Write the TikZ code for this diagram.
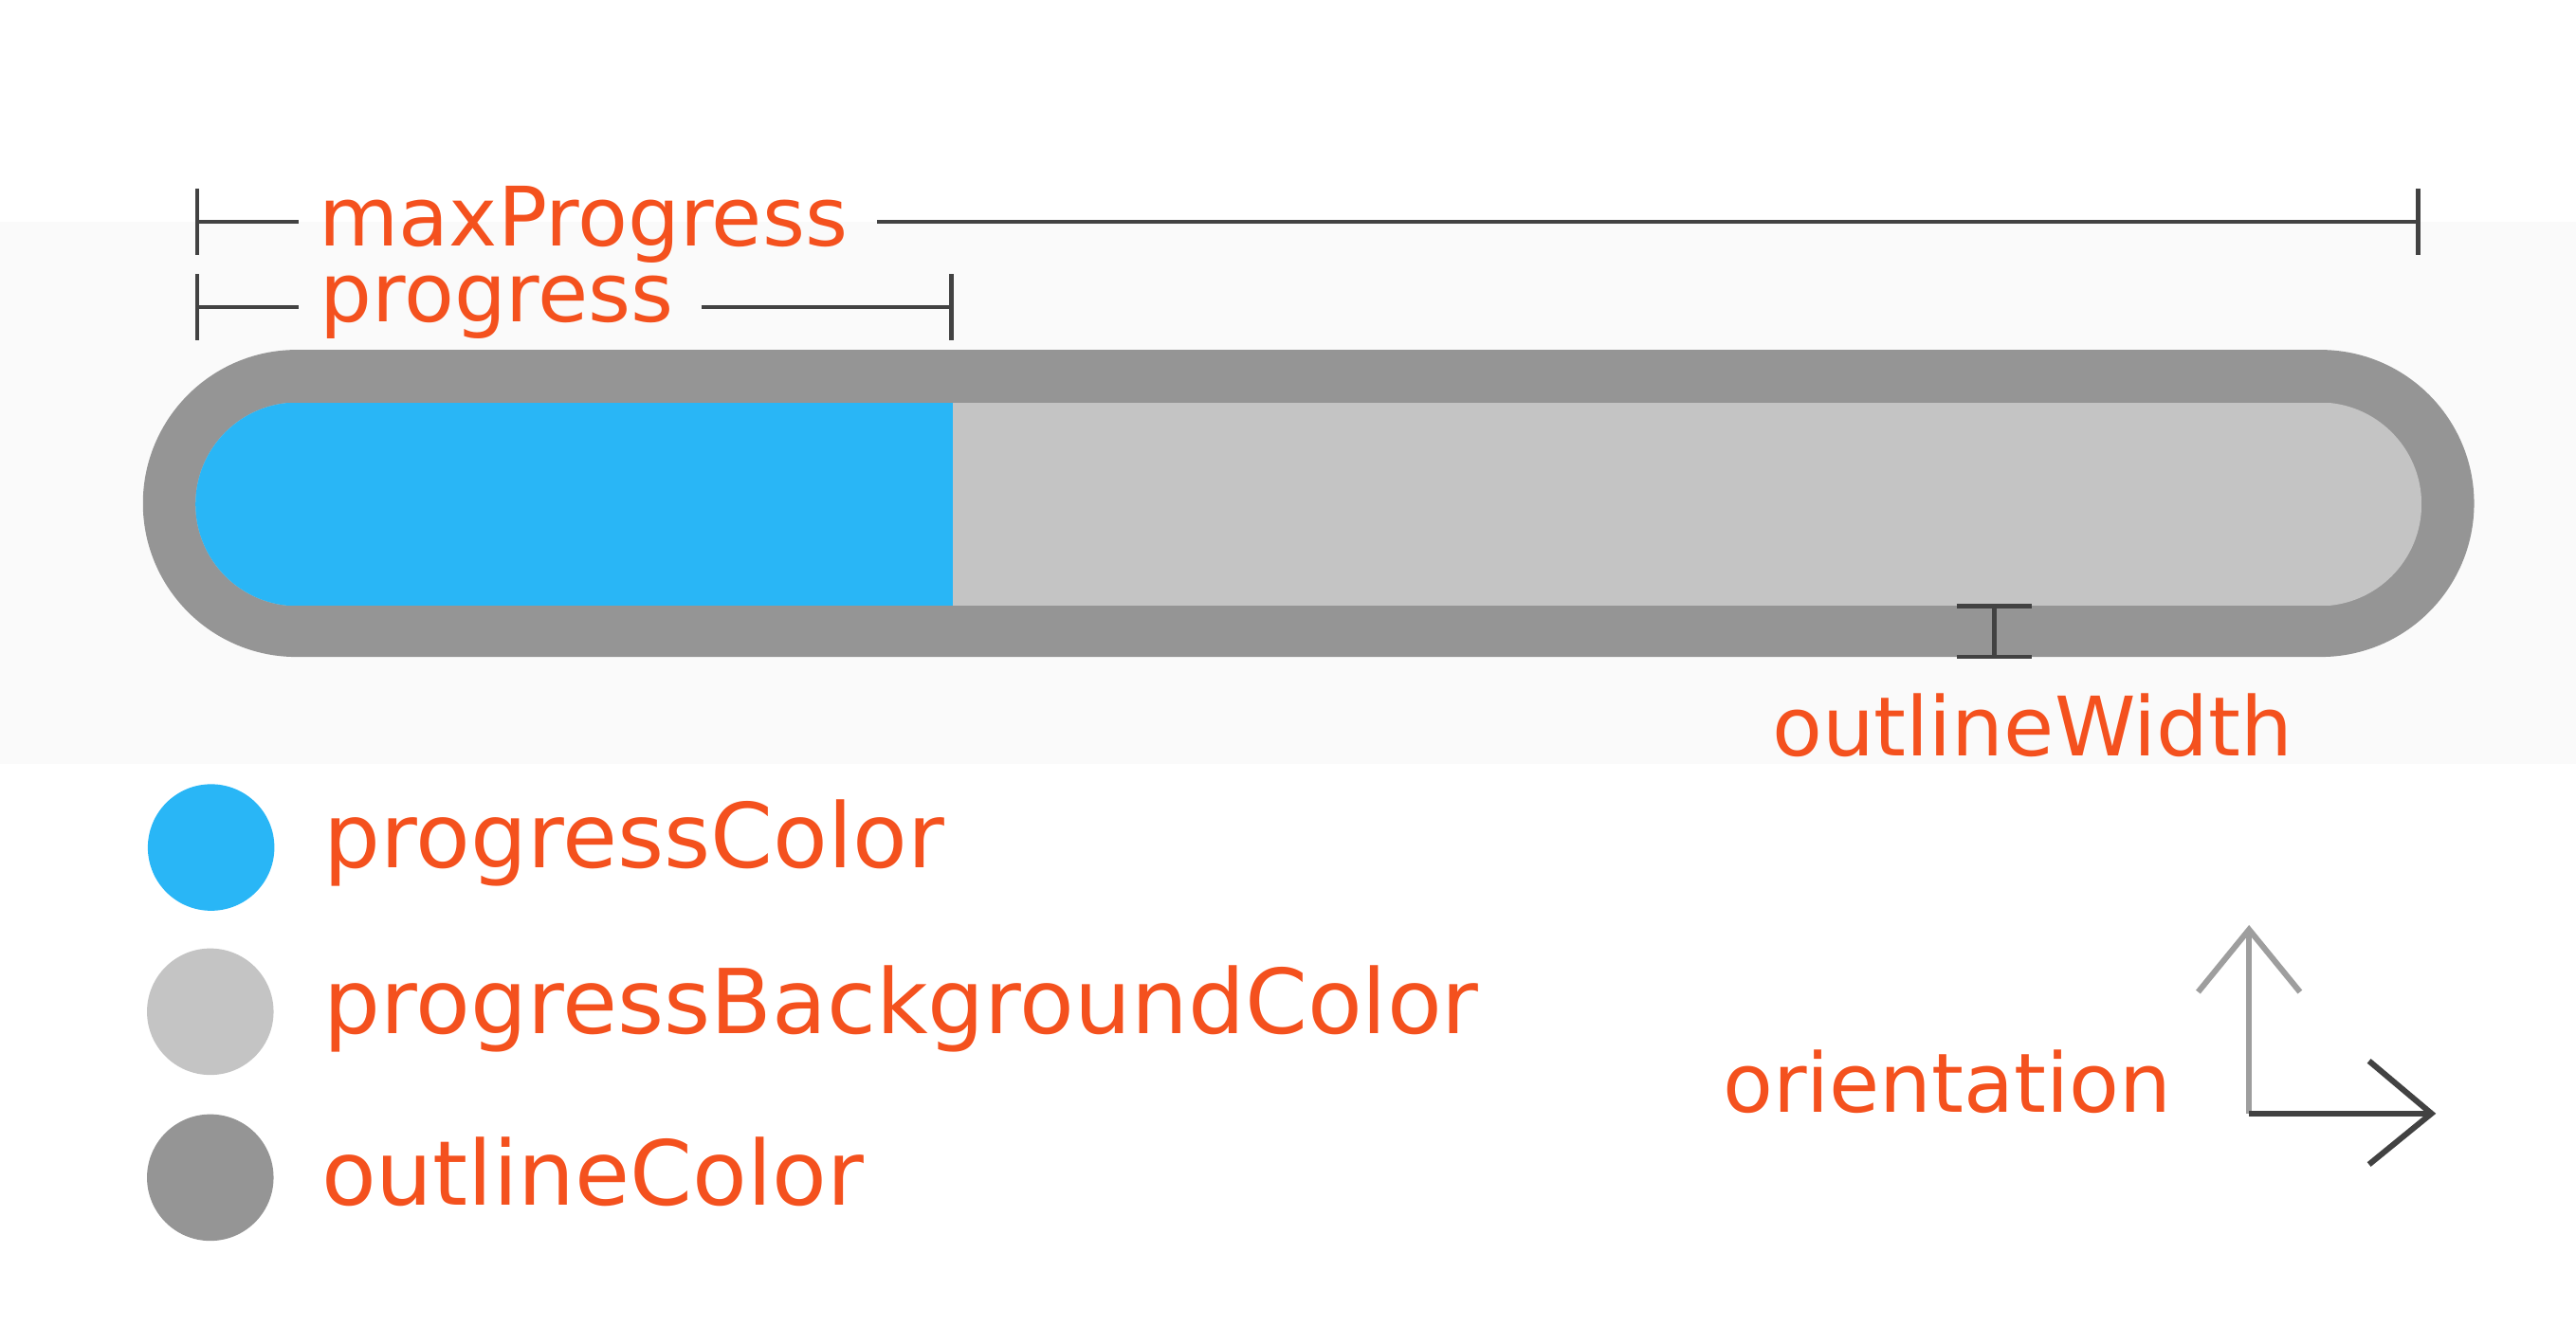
\documentclass[tikz,border=0pt]{standalone}
\usepackage{fontspec}
\setmainfont{DejaVu Sans}
\usetikzlibrary{calc}
\definecolor{bandgray}{HTML}{FAFAFA}
\definecolor{outlinegray}{HTML}{959595}
\definecolor{trackgray}{HTML}{C4C4C4}
\definecolor{progblue}{HTML}{29B6F6}
\definecolor{dimgray}{HTML}{424242}
\definecolor{axisgray}{HTML}{9E9E9E}
\definecolor{labelorange}{HTML}{F4511E}
\tikzset{
  dimline/.style={dimgray, line width=0.75pt},
  axisline/.style={line width=1pt},
  attrlabel/.style={labelorange, inner sep=0pt, anchor=base west,
    font=\fontsize{14.2}{17}\selectfont},
  legendlabel/.style={attrlabel, font=\fontsize{15.5}{19}\selectfont},
  swatch/.style={circle, minimum size=0.77cm, inner sep=0pt},
}
\begin{document}
\begin{tikzpicture}[x=0.01cm, y=-0.01cm]
        \useasboundingbox (0,0) rectangle (1568,818);
        \fill[bandgray] (0,135) rectangle (1568,465);
        % bar
        \fill[outlinegray, rounded corners=0.935cm] (87,213) rectangle (1506,400);
        \begin{scope}
          \clip[rounded corners=0.62cm] (119,245) rectangle (1474,369);
          \fill[trackgray] (119,245) rectangle (1474,369);
          \fill[progblue]  (119,245) rectangle (580,369);
        \end{scope}
        % dimensions
        \coordinate (maxL)  at ( 120,135);
        \coordinate (maxR)  at (1472,135);
        \coordinate (progL) at ( 120,187);
        \coordinate (progR) at ( 579,187);
        \node[attrlabel] (maxText)  at (193.5,150) {maxProgress};
        \node[attrlabel] (progText) at (194,196)   {progress};
        \draw[dimline] (maxL) -- ($(maxL -| maxText.west)+(-12,0)$);
        \draw[dimline] ($(maxL -| maxText.east)+(17,0)$) -- (maxR);
        \draw[dimline] (progL) -- ($(progL -| progText.west)+(-12,0)$);
        \draw[dimline] ($(progL -| progText.east)+(16,0)$) -- (progR);
        \draw[dimline] (maxL) ++(0,-20) -- ++(0,40);
        \draw[dimline] (maxR) ++(0,-20) -- ++(0,40);
        \draw[dimline] (progL) ++(0,-20) -- ++(0,40);
        \draw[dimline] (progR) ++(0,-20) -- ++(0,40);
        % outline width
        \coordinate (owTop) at (1214,369);
        \coordinate (owBot) at (1214,400);
        \draw[dimline] (owTop) -- (owBot);
        \draw[dimline] (owTop) ++(-23,0) -- ++(46,0);
        \draw[dimline] (owBot) ++(-23,0) -- ++(46,0);
        \node[attrlabel] (owText) at (1078,460) {outlineWidth};
        % legend
        \node[swatch, fill=progblue]    (blueDot)    at (128.5,516) {};
        \node[swatch, fill=trackgray]   (trackDot)   at (128,616)   {};
        \node[swatch, fill=outlinegray] (outlineDot) at (128,717)   {};
        \node[legendlabel] (blueText)    at (196.5,528.4) {progressColor};
        \node[legendlabel] (trackText)   at (196.5,629.4) {progressBackgroundColor};
        \node[legendlabel] (outlineText) at (195,734)     {outlineColor};
        % orientation
        \coordinate (origin)   at (1369,678);
        \coordinate (upTip)    at (1369,566);
        \coordinate (rightTip) at (1480,678);
        \draw[axisline, axisgray] (origin) -- (upTip);
        \draw[axisline, axisgray] ($(upTip)+(-31,38)$) -- (upTip) -- ($(upTip)+(31,38)$);
        \draw[axisline, dimgray]  (origin) -- (rightTip);
        \draw[axisline, dimgray]  ($(rightTip)+(-38,-32)$) -- (rightTip) -- ($(rightTip)+(-38,31)$);
        \node[attrlabel] (orientText) at (1048,677) {orientation};
      \end{tikzpicture}
\end{document}
